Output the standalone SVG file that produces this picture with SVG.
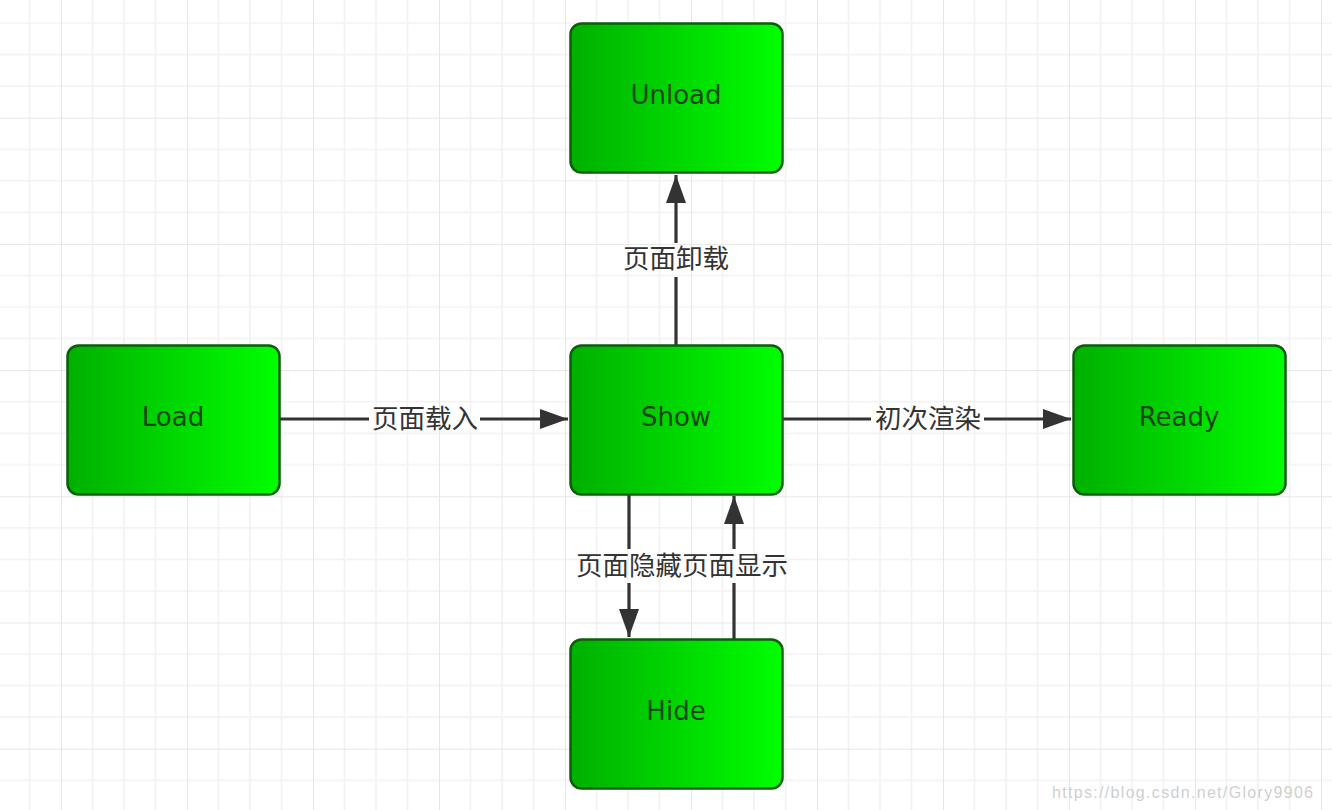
<svg xmlns="http://www.w3.org/2000/svg" width="1332" height="810" viewBox="0 0 1332 810">
<defs>
<pattern id="grid" patternUnits="userSpaceOnUse" x="-65" y="-8.5" width="126" height="126.2">
<rect width="126" height="126.2" fill="#fff"/>
<path d="M31.5 0V126.2M63 0V126.2M94.5 0V126.2M0 31.55H126M0 63.1H126M0 94.65H126" stroke="#f2f2f2" stroke-width="1.6" fill="none"/>
<path d="M0 0V126.2M0 0H126" stroke="#e7e7e7" stroke-width="2" fill="none"/>
</pattern>
<linearGradient id="g" x1="0" y1="0" x2="1" y2="0">
<stop offset="0" stop-color="#00b000"/>
<stop offset="1" stop-color="#00ff00"/>
</linearGradient>
<marker id="ah" viewBox="0 0 28 20" refX="28" refY="10" markerWidth="28" markerHeight="20" markerUnits="userSpaceOnUse" orient="auto">
<path d="M0 0L28 10L0 20Z" fill="#333"/>
</marker>
<style>
.box{fill:url(#g);stroke:#0b5c0b;stroke-width:2.5}
.nt{font-family:"DejaVu Sans","Liberation Sans",sans-serif;font-size:26px;fill:#174717;text-anchor:middle}
.ln{stroke:#333;stroke-width:3.2;fill:none}
.lb{font-family:"Noto Sans CJK SC","Liberation Sans",sans-serif;font-size:26.5px;fill:#333;text-anchor:middle}
.wm{font-family:"Liberation Sans",sans-serif;font-size:16px;fill:#cfcfcf}
</style>
</defs>
<rect width="1332" height="810" fill="url(#grid)"/>

<g id="connectors">
<path class="ln" d="M280 419H369"/>
<path class="ln" d="M480 419H568" marker-end="url(#ah)"/>
<text class="lb" x="425" y="428">页面载入</text>

<path class="ln" d="M783 419H871"/>
<path class="ln" d="M984 419H1071" marker-end="url(#ah)"/>
<text class="lb" x="928" y="428">初次渲染</text>

<path class="ln" d="M676 345V277"/>
<path class="ln" d="M676 243V175" marker-end="url(#ah)"/>
<text class="lb" x="676" y="268">页面卸载</text>

<path class="ln" d="M629 494V549"/>
<path class="ln" d="M629 583V637" marker-end="url(#ah)"/>
<path class="ln" d="M734 639V583"/>
<path class="ln" d="M734 549V496" marker-end="url(#ah)"/>
<text class="lb" x="682" y="575">页面隐藏页面显示</text>
</g>

<g id="unload"><rect class="box" x="570.5" y="23.5" width="212" height="149" rx="11"/><text class="nt" x="676" y="104">Unload</text></g>
<g id="load"><rect class="box" x="67.5" y="345.5" width="212" height="149" rx="11"/><text class="nt" x="173" y="426">Load</text></g>
<g id="show"><rect class="box" x="570.5" y="345.5" width="212" height="149" rx="11"/><text class="nt" x="676" y="426">Show</text></g>
<g id="ready"><rect class="box" x="1073.5" y="345.5" width="212" height="149" rx="11"/><text class="nt" x="1179" y="426">Ready</text></g>
<g id="hide"><rect class="box" x="570.5" y="639.5" width="212" height="149" rx="11"/><text class="nt" x="676" y="720">Hide</text></g>

<text class="wm" x="1052" y="798" textLength="261" lengthAdjust="spacing">https://blog.csdn.net/Glory9906</text>
</svg>
